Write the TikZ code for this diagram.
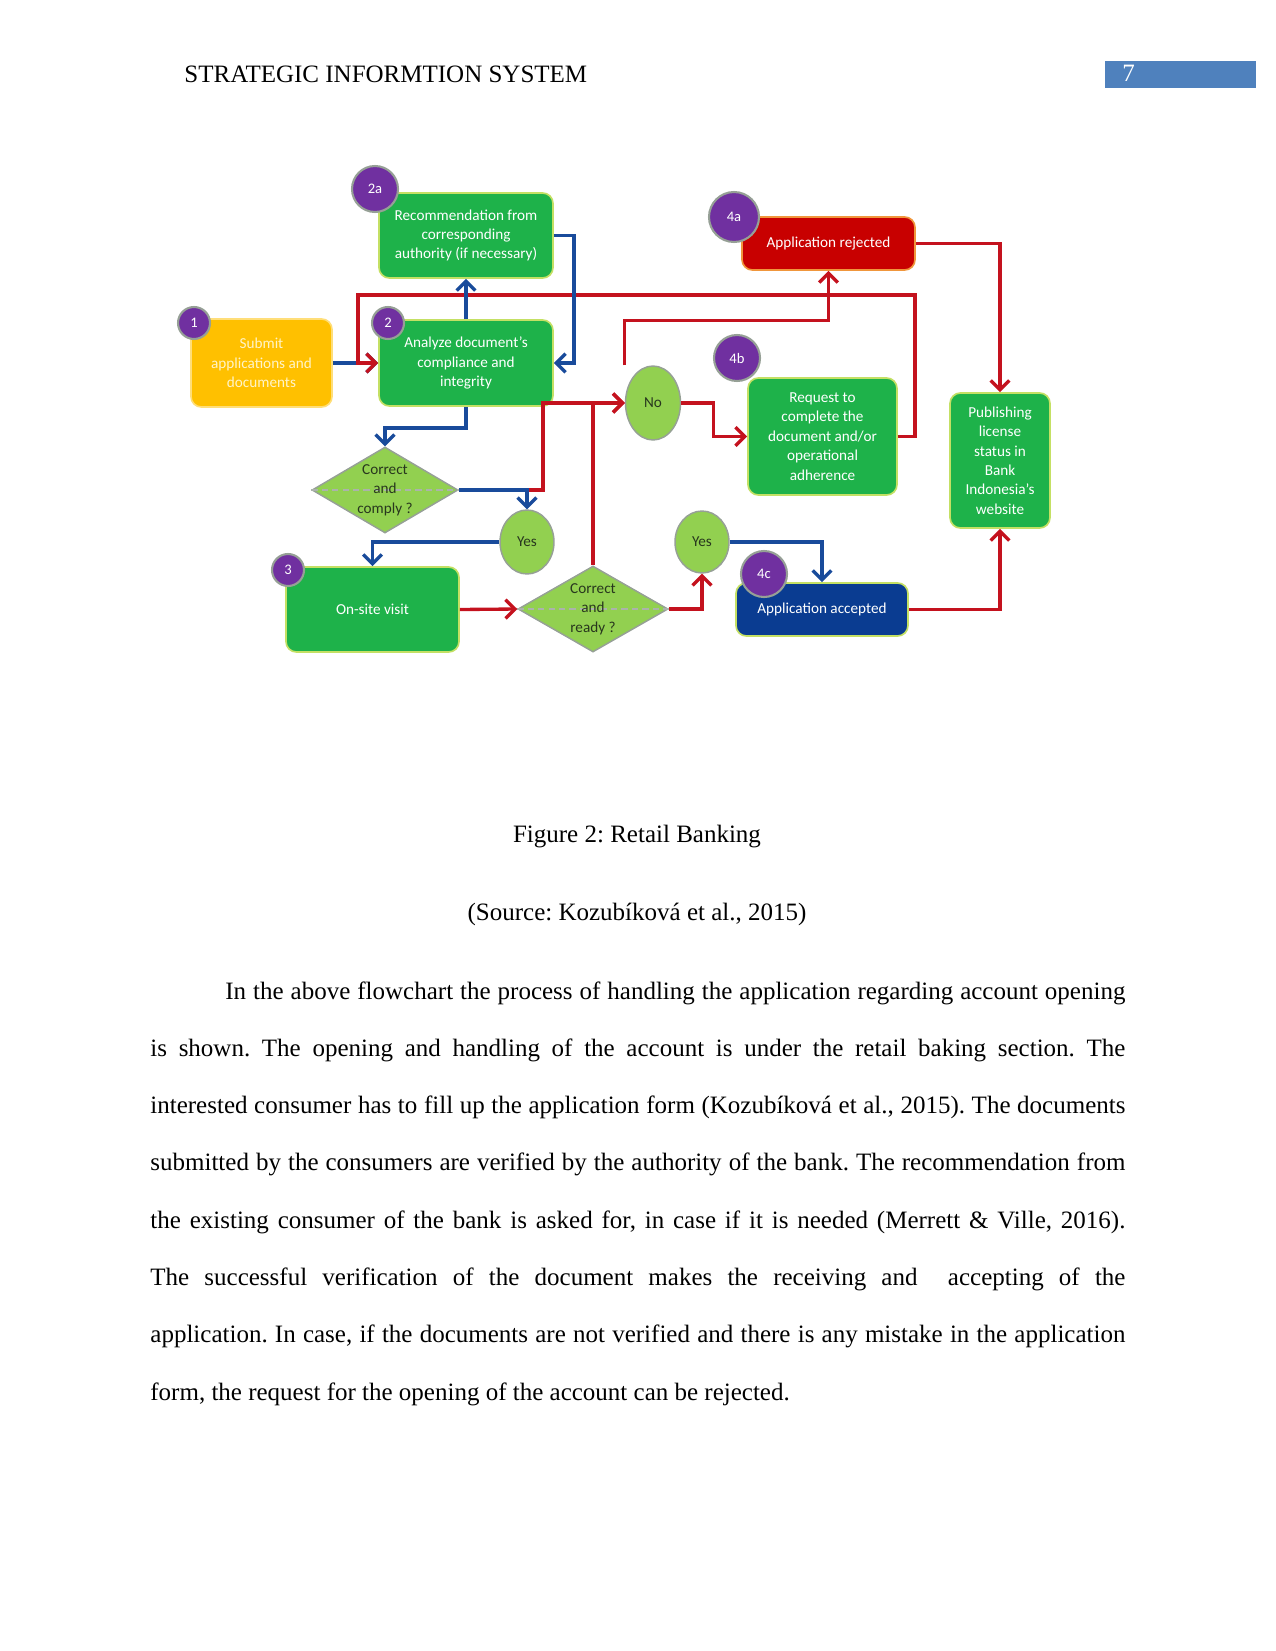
\documentclass[tikz,border=0pt]{standalone}
\usepackage{fontspec}
\setmainfont{Liberation Serif}
\newfontfamily\dfont{Carlito}
\usetikzlibrary{arrows.meta,shapes.geometric}
\definecolor{boxgreen}{RGB}{30,178,74}
\definecolor{boxgreenedge}{RGB}{196,224,100}
\definecolor{boxyellow}{RGB}{255,192,0}
\definecolor{boxyellowedge}{RGB}{255,222,120}
\definecolor{boxred}{RGB}{200,0,0}
\definecolor{boxrededge}{RGB}{240,150,60}
\definecolor{boxblue}{RGB}{10,60,145}
\definecolor{circpurple}{RGB}{112,48,160}
\definecolor{decgreen}{RGB}{146,208,80}
\definecolor{decedge}{RGB}{150,160,150}
\definecolor{linered}{RGB}{196,18,30}
\definecolor{lineblue}{RGB}{25,75,155}
\definecolor{hdrblue}{RGB}{79,129,189}
\definecolor{pale}{RGB}{255,244,200}
\definecolor{dtext}{RGB}{40,55,30}
\tikzset{
  sz/.style 2 args={minimum width=#1*0.48pt, minimum height=#2*0.48pt},
  box/.style={rectangle, rounded corners=5pt, inner sep=1pt, align=center,
    font=\dfont\fontsize{7.3}{9.3}\selectfont, text=white, line width=0.8pt},
  gbox/.style={box, fill=boxgreen, draw=boxgreenedge},
  numc/.style={circle, fill=circpurple, draw=decedge, line width=1pt, text=white,
    inner sep=0pt, font=\dfont\fontsize{7}{8}\selectfont},
  dec/.style={diamond, fill=decgreen, draw=decedge, line width=0.7pt, inner sep=0pt},
  oval/.style={ellipse, fill=decgreen, draw=decedge, line width=0.7pt, inner sep=0pt,
    text=dtext, font=\dfont\fontsize{7.3}{9.3}\selectfont},
  dtxt/.style={align=center, inner sep=0pt, text=dtext, font=\dfont\fontsize{7.3}{9.3}\selectfont},
  arr/.style={-{Straight Barb[length=4.5pt,width=9pt]}},
  rd/.style={draw=linered, line width=1.6pt, arr},
  bl/.style={draw=lineblue, line width=1.6pt, arr},
  body/.style={anchor=base west, inner sep=0pt, font=\fontsize{12}{14}\selectfont}
}
\begin{document}
\frenchspacing
\begin{tikzpicture}[x=0.48pt,y=-0.48pt]
\useasboundingbox (0,0) rectangle (1275,1651);
% header
\node[body] (hdr) at (184,83) {STRATEGIC INFORMTION SYSTEM};
\node[fill=hdrblue, sz={151}{27}, anchor=north west, inner sep=0pt] (pgbox) at (1105,61) {};
\node[body, text=white] (pgnum) at (1122,82) {7};

% boxes
\node[box, fill=boxyellow, draw=boxyellowedge, text=pale, sz={141}{88}] (n1) at (261.5,363) {Submit\\applications and\\documents};
\node[gbox, sz={174}{85}] (n2a) at (466,235.5) {Recommendation from\\corresponding\\authority (if necessary)};
\node[gbox, sz={174}{86}] (n2) at (466,363) {Analyze document’s\\compliance and\\integrity};
\node[gbox, sz={173}{85}] (n3) at (372.5,609.5) {On-site visit};
\node[box, fill=boxred, draw=boxrededge, sz={173}{53}] (n4a) at (828.5,243.5) {Application rejected};
\node[gbox, sz={149}{117}] (n4b) at (822.5,436.5) {Request to\\complete the\\document and/or\\operational\\adherence};
\node[box, fill=boxblue, draw=boxgreenedge, sz={172}{53}] (n4c) at (822,609.5) {Application accepted};
\node[gbox, sz={100}{135}] (npub) at (1000,460.5) {Publishing\\license\\status in\\Bank\\Indonesia’s\\website};

% decisions
\node[dec, sz={146}{86}] (d1) at (385,490) {};
\draw[decedge!80, line width=0.5pt, densely dashed] (d1.west) -- (d1.east);
\node[dtxt] (d1t) at (d1.center) {Correct\\and\\comply ?};
\node[dec, sz={150}{86}] (d2) at (593,609) {};
\draw[decedge!80, line width=0.5pt, densely dashed] (d2.west) -- (d2.east);
\node[dtxt] (d2t) at (d2.center) {Correct\\and\\ready ?};
\node[oval, sz={54}{64}] (y1) at (527,542) {Yes};
\node[oval, sz={54}{62}] (y2) at (702,542) {Yes};
\node[oval, sz={55}{74}] (no) at (653,403) {No};

% connectors
\draw[bl] (n1.east) -- (n2.west);
\coordinate (loopR) at (915,295);
\coordinate (loopL) at (358,295);
\draw[rd] (n4b.east) -| (loopR) -- (loopL) |- (n2.west);
\draw[bl] (n2.north) -- (n2a.south);
\draw[bl] (n2a.east) -- ++(20,0) |- (n2.east);
\draw[bl] (n2.south) -- ++(0,21) -| (d1.north);
\draw[rd] (y1.north |- d1.east) -- ++(16,0) |- (no.west);
\draw[rd] (d2.north) |- (no.west);
\draw[bl] (d1.east) -| (y1.north);
\draw[bl] (y1.west) -| (n3.north);
\draw[rd] (n3.east) -- (d2.west);
\draw[rd] (d2.east) -| (y2.south);
\draw[bl] (y2.east) -| (n4c.north);
\draw[rd] (no.east) -- ++(32,0) |- (n4b.west);
\draw[rd] (no.west |- no.north) -- ++(0,-45) -| (n4a.south);
\draw[rd] (n4a.east) -| (npub.north);
\draw[rd] (n4c.east) -| (npub.south);

% number circles
\node[numc, minimum size=32*0.48pt] (c1) at (194,323) {1};
\node[numc, minimum size=46*0.48pt] (c2a) at (375,189) {2a};
\node[numc, minimum size=32*0.48pt] (c2) at (388,323) {2};
\node[numc, minimum size=32*0.48pt] (c3) at (288,570) {3};
\node[numc, minimum size=50*0.48pt] (c4a) at (734,217) {4a};
\node[numc, minimum size=46*0.48pt] (c4b) at (737,358) {4b};
\node[numc, minimum size=46*0.48pt] (c4c) at (764,574) {4c};

% caption
\node[anchor=base, inner sep=0pt, font=\fontsize{12}{14}\selectfont] (cap) at (637,842) {Figure 2: Retail Banking};
\node[anchor=base, inner sep=0pt, font=\fontsize{12}{14}\selectfont] (src) at (637,920) {(Source: Kozubíková et al., 2015)};

% paragraph
\node[body] (p1) at (150,999) {\hbox to 468pt{\hspace*{36pt}In the above flowchart the process of handling the application regarding account opening}};
\node[body] (p2) at (150,1056.3) {\hbox to 468pt{is shown. The opening and handling of the account is under the retail baking section. The}};
\node[body] (p3) at (150,1113.6) {\hbox to 468pt{interested consumer has to fill up the application form (Kozubíková et al., 2015). The documents}};
\node[body] (p4) at (150,1170.9) {\hbox to 468pt{submitted by the consumers are verified by the authority of the bank. The recommendation from}};
\node[body] (p5) at (150,1228.2) {\hbox to 468pt{the existing consumer of the bank is asked for, in case if it is needed (Merrett \& Ville, 2016).}};
\node[body] (p6) at (150,1285.5) {\hbox to 468pt{The successful verification of the document makes the receiving and \ accepting of the}};
\node[body] (p7) at (150,1342.8) {\hbox to 468pt{application. In case, if the documents are not verified and there is any mistake in the application}};
\node[body] (p8) at (150,1400.1) {form, the request for the opening of the account can be rejected.};
\end{tikzpicture}
\end{document}
